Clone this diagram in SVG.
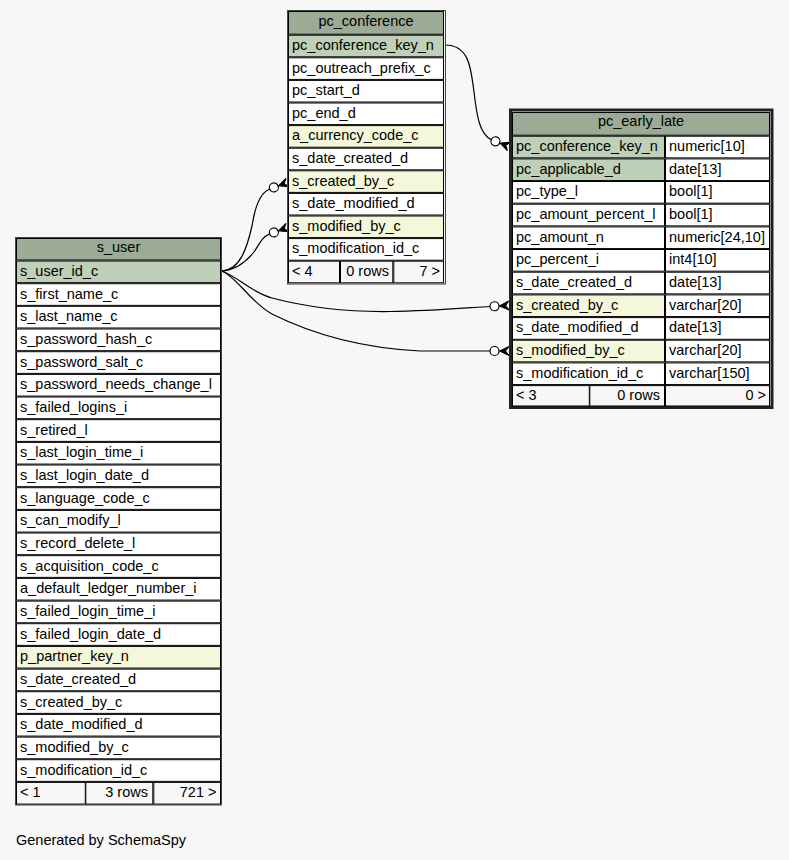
<svg xmlns="http://www.w3.org/2000/svg" xmlns:xlink="http://www.w3.org/1999/xlink" width="789" height="860" viewBox="0 0 789 860">
<style>
.t{font-family:"Liberation Sans",Arial,Helvetica,sans-serif;font-size:14.5px;fill:#000}
.m{text-anchor:middle}
.r{text-anchor:end}
rect.c{stroke:#000;stroke-width:1}
.hd{fill:#9bab96}
.pk{fill:#bed1b8}
.fk{fill:#f4f7da}
.n{fill:#fff}
.ft{fill:#f7f7f7}
.ob{fill:none;stroke:#444;stroke-width:1}
.e{fill:none;stroke:#000;stroke-width:1.2}
</style>
<defs>
<g id="crowodot">
<circle cx="-14.5" cy="0" r="4.5" fill="#fff" stroke="#000" stroke-width="1.2"/>
<polygon points="0,-4.5 -9.5,0 0,4.5 -3.5,0" fill="#000" stroke="#000" stroke-width="1"/>
</g>
</defs>
<rect x="0" y="0" width="789" height="860" fill="#f7f7f7"/>

<g id="connectors">
<path class="e" d="M445,45 C470,45 471,70 474,92 C477,118 480,134 491.3,139.7"/>
<use xlink:href="#crowodot" href="#crowodot" transform="translate(509,146.5) rotate(21)"/>
<path class="e" d="M222,271 C240,270 247,248 252,226 C255,208 259,194 269.6,189"/>
<use xlink:href="#crowodot" href="#crowodot" transform="translate(287.5,182.5) rotate(-20)"/>
<path class="e" d="M222,271 C236,270 246,262 254,252 C260,243 262,237 269.6,234"/>
<use xlink:href="#crowodot" href="#crowodot" transform="translate(287.5,227.5) rotate(-20)"/>
<path class="e" d="M222,271 C240,278 252,293 272,298 C310,308 350,312 390,311.5 C430,311 465,308 490,306.5"/>
<use xlink:href="#crowodot" href="#crowodot" transform="translate(509,305.5) rotate(-3)"/>
<path class="e" d="M222,271 C238,278 250,302 272,314 C310,333 360,348 420,351 L490,351"/>
<use xlink:href="#crowodot" href="#crowodot" transform="translate(509,351)"/>
</g>

<g id="pc_conference">
<rect class="ob" x="287.5" y="10.5" width="158" height="273.5"/>
<rect class="c hd" x="288.5" y="11.5" width="155" height="22.7"/>
<text class="t m" x="366" y="25.7">pc_conference</text>
<rect class="c pk" x="288.5" y="35.2" width="155" height="21.6"/>
<text class="t" x="292" y="50">pc_conference_key_n</text>
<rect class="c n" x="288.5" y="57.8" width="155" height="21.6"/>
<text class="t" x="292" y="72.6">pc_outreach_prefix_c</text>
<rect class="c n" x="288.5" y="80.4" width="155" height="21.6"/>
<text class="t" x="292" y="95.2">pc_start_d</text>
<rect class="c n" x="288.5" y="103" width="155" height="21.6"/>
<text class="t" x="292" y="117.8">pc_end_d</text>
<rect class="c fk" x="288.5" y="125.6" width="155" height="21.6"/>
<text class="t" x="292" y="140.4">a_currency_code_c</text>
<rect class="c n" x="288.5" y="148.2" width="155" height="21.6"/>
<text class="t" x="292" y="163">s_date_created_d</text>
<rect class="c fk" x="288.5" y="170.8" width="155" height="21.6"/>
<text class="t" x="292" y="185.6">s_created_by_c</text>
<rect class="c n" x="288.5" y="193.4" width="155" height="21.6"/>
<text class="t" x="292" y="208.2">s_date_modified_d</text>
<rect class="c fk" x="288.5" y="216" width="155" height="21.6"/>
<text class="t" x="292" y="230.8">s_modified_by_c</text>
<rect class="c n" x="288.5" y="238.6" width="155" height="21.6"/>
<text class="t" x="292" y="253.4">s_modification_id_c</text>
<rect class="c ft" x="288.5" y="261.2" width="51" height="21.6"/>
<rect class="c ft" x="340.5" y="261.2" width="52.3" height="21.6"/>
<rect class="c ft" x="393.8" y="261.2" width="49.7" height="21.6"/>
<text class="t" x="292" y="276">&lt; 4</text>
<text class="t r" x="389" y="276">0 rows</text>
<text class="t r" x="440" y="276">7 &gt;</text>
</g>

<g id="pc_early_late">
<rect x="510.5" y="110" width="261.5" height="297.5" fill="none" stroke="#222" stroke-width="3"/>
<rect class="c hd" x="512.5" y="112.5" width="257" height="22.7"/>
<text class="t m" x="641" y="126.2">pc_early_late</text>
<rect class="c pk" x="512.5" y="136.2" width="152" height="21.67"/>
<rect class="c n" x="665.5" y="136.2" width="104" height="21.67"/>
<text class="t" x="516" y="151">pc_conference_key_n</text>
<text class="t" x="669" y="151">numeric[10]</text>
<rect class="c pk" x="512.5" y="158.9" width="152" height="21.67"/>
<rect class="c n" x="665.5" y="158.9" width="104" height="21.67"/>
<text class="t" x="516" y="173.7">pc_applicable_d</text>
<text class="t" x="669" y="173.7">date[13]</text>
<rect class="c n" x="512.5" y="181.5" width="152" height="21.67"/>
<rect class="c n" x="665.5" y="181.5" width="104" height="21.67"/>
<text class="t" x="516" y="196.3">pc_type_l</text>
<text class="t" x="669" y="196.3">bool[1]</text>
<rect class="c n" x="512.5" y="204.2" width="152" height="21.67"/>
<rect class="c n" x="665.5" y="204.2" width="104" height="21.67"/>
<text class="t" x="516" y="219">pc_amount_percent_l</text>
<text class="t" x="669" y="219">bool[1]</text>
<rect class="c n" x="512.5" y="226.9" width="152" height="21.67"/>
<rect class="c n" x="665.5" y="226.9" width="104" height="21.67"/>
<text class="t" x="516" y="241.7">pc_amount_n</text>
<text class="t" x="669" y="241.7">numeric[24,10]</text>
<rect class="c n" x="512.5" y="249.5" width="152" height="21.67"/>
<rect class="c n" x="665.5" y="249.5" width="104" height="21.67"/>
<text class="t" x="516" y="264.3">pc_percent_i</text>
<text class="t" x="669" y="264.3">int4[10]</text>
<rect class="c n" x="512.5" y="272.2" width="152" height="21.67"/>
<rect class="c n" x="665.5" y="272.2" width="104" height="21.67"/>
<text class="t" x="516" y="287">s_date_created_d</text>
<text class="t" x="669" y="287">date[13]</text>
<rect class="c fk" x="512.5" y="294.9" width="152" height="21.67"/>
<rect class="c n" x="665.5" y="294.9" width="104" height="21.67"/>
<text class="t" x="516" y="309.7">s_created_by_c</text>
<text class="t" x="669" y="309.7">varchar[20]</text>
<rect class="c n" x="512.5" y="317.6" width="152" height="21.67"/>
<rect class="c n" x="665.5" y="317.6" width="104" height="21.67"/>
<text class="t" x="516" y="332.4">s_date_modified_d</text>
<text class="t" x="669" y="332.4">date[13]</text>
<rect class="c fk" x="512.5" y="340.2" width="152" height="21.67"/>
<rect class="c n" x="665.5" y="340.2" width="104" height="21.67"/>
<text class="t" x="516" y="355">s_modified_by_c</text>
<text class="t" x="669" y="355">varchar[20]</text>
<rect class="c n" x="512.5" y="362.9" width="152" height="21.67"/>
<rect class="c n" x="665.5" y="362.9" width="104" height="21.67"/>
<text class="t" x="516" y="377.7">s_modification_id_c</text>
<text class="t" x="669" y="377.7">varchar[150]</text>
<rect class="c ft" x="512.5" y="385.6" width="76.8" height="20.4"/>
<rect class="c ft" x="589.8" y="385.6" width="74.7" height="20.4"/>
<rect class="c ft" x="665.5" y="385.6" width="104" height="20.4"/>
<text class="t" x="516" y="400.2">&lt; 3</text>
<text class="t r" x="660" y="400.2">0 rows</text>
<text class="t r" x="766" y="400.2">0 &gt;</text>
</g>

<g id="s_user">
<rect class="ob" x="15.5" y="237.5" width="206" height="567.5"/>
<rect class="c hd" x="16.5" y="238.5" width="204" height="21.5"/>
<text class="t m" x="118.5" y="252">s_user</text>
<rect class="c pk" x="16.5" y="261" width="204" height="21.67"/>
<text class="t" x="20" y="275.8">s_user_id_c</text>
<rect class="c n" x="16.5" y="283.7" width="204" height="21.67"/>
<text class="t" x="20" y="298.5">s_first_name_c</text>
<rect class="c n" x="16.5" y="306.3" width="204" height="21.67"/>
<text class="t" x="20" y="321.1">s_last_name_c</text>
<rect class="c n" x="16.5" y="329" width="204" height="21.67"/>
<text class="t" x="20" y="343.8">s_password_hash_c</text>
<rect class="c n" x="16.5" y="351.7" width="204" height="21.67"/>
<text class="t" x="20" y="366.5">s_password_salt_c</text>
<rect class="c n" x="16.5" y="374.4" width="204" height="21.67"/>
<text class="t" x="20" y="389.2">s_password_needs_change_l</text>
<rect class="c n" x="16.5" y="397" width="204" height="21.67"/>
<text class="t" x="20" y="411.8">s_failed_logins_i</text>
<rect class="c n" x="16.5" y="419.7" width="204" height="21.67"/>
<text class="t" x="20" y="434.5">s_retired_l</text>
<rect class="c n" x="16.5" y="442.4" width="204" height="21.67"/>
<text class="t" x="20" y="457.2">s_last_login_time_i</text>
<rect class="c n" x="16.5" y="465" width="204" height="21.67"/>
<text class="t" x="20" y="479.8">s_last_login_date_d</text>
<rect class="c n" x="16.5" y="487.7" width="204" height="21.67"/>
<text class="t" x="20" y="502.5">s_language_code_c</text>
<rect class="c n" x="16.5" y="510.4" width="204" height="21.67"/>
<text class="t" x="20" y="525.2">s_can_modify_l</text>
<rect class="c n" x="16.5" y="533" width="204" height="21.67"/>
<text class="t" x="20" y="547.8">s_record_delete_l</text>
<rect class="c n" x="16.5" y="555.7" width="204" height="21.67"/>
<text class="t" x="20" y="570.5">s_acquisition_code_c</text>
<rect class="c n" x="16.5" y="578.4" width="204" height="21.67"/>
<text class="t" x="20" y="593.2">a_default_ledger_number_i</text>
<rect class="c n" x="16.5" y="601.1" width="204" height="21.67"/>
<text class="t" x="20" y="615.9">s_failed_login_time_i</text>
<rect class="c n" x="16.5" y="623.7" width="204" height="21.67"/>
<text class="t" x="20" y="638.5">s_failed_login_date_d</text>
<rect class="c fk" x="16.5" y="646.4" width="204" height="21.67"/>
<text class="t" x="20" y="661.2">p_partner_key_n</text>
<rect class="c n" x="16.5" y="669.1" width="204" height="21.67"/>
<text class="t" x="20" y="683.9">s_date_created_d</text>
<rect class="c n" x="16.5" y="691.7" width="204" height="21.67"/>
<text class="t" x="20" y="706.5">s_created_by_c</text>
<rect class="c n" x="16.5" y="714.4" width="204" height="21.67"/>
<text class="t" x="20" y="729.2">s_date_modified_d</text>
<rect class="c n" x="16.5" y="737.1" width="204" height="21.67"/>
<text class="t" x="20" y="751.9">s_modified_by_c</text>
<rect class="c n" x="16.5" y="759.7" width="204" height="21.67"/>
<text class="t" x="20" y="774.5">s_modification_id_c</text>
<rect class="c ft" x="16.5" y="782.4" width="68.8" height="21.67"/>
<rect class="c ft" x="85.8" y="782.4" width="67" height="21.67"/>
<rect class="c ft" x="153.8" y="782.4" width="66.7" height="21.67"/>
<text class="t" x="20" y="797.2">&lt; 1</text>
<text class="t r" x="148" y="797.2">3 rows</text>
<text class="t r" x="216.5" y="797.2">721 &gt;</text>
</g>

<text class="t" x="16" y="845">Generated by SchemaSpy</text>
</svg>
